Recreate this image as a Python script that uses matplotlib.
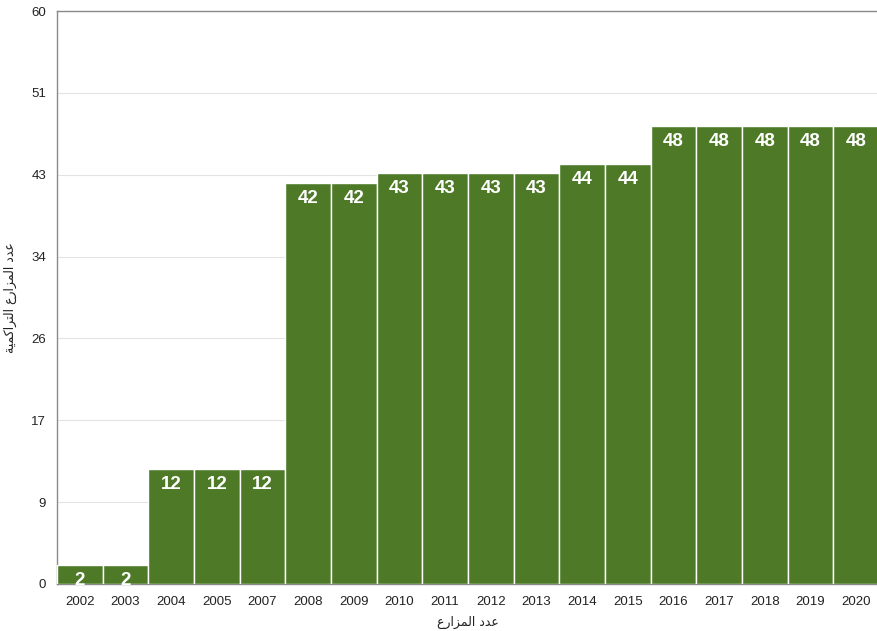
import matplotlib
matplotlib.use("Agg")
import matplotlib.pyplot as plt
import numpy as np

years = ["2002", "2003", "2004", "2005", "2007", "2008", "2009", "2010", "2011",
         "2012", "2013", "2014", "2015", "2016", "2017", "2018", "2019", "2020"]
values = [2, 2, 12, 12, 12, 42, 42, 43, 43, 43, 43, 44, 44, 48, 48, 48, 48, 48]
ytick_vals = list(np.linspace(0, 60, 8))
ytick_labels = ["0", "9", "17", "26", "34", "43", "51", "60"]

# Arabic labels, pre-shaped with presentation forms (visual order for LTR rendering)
xlabel_logical = "\uFECB\uFEAA\uFEA9 \uFE8D\uFEDF\uFEE4\uFEB0\uFE8D\uFEAD\uFEC9"  # عدد المزارع
ylabel_logical = ("\uFECB\uFEAA\uFEA9 \uFE8D\uFEDF\uFEE4\uFEB0\uFE8D\uFEAD\uFEC9 "
                  "\uFE8D\uFEDF\uFE98\uFEAE\uFE8D\uFEDB\uFEE4\uFEF4\uFE94")  # عدد المزارع التراكمية
xlabel = xlabel_logical[::-1]
ylabel = ylabel_logical[::-1]

plt.rcParams['font.family'] = ['Liberation Sans', 'DejaVu Sans']

fig = plt.figure(figsize=(8.78, 6.31), dpi=100)
ax = fig.add_axes([0.065, 0.0745, 0.936, 0.908])

x = np.arange(len(years))
ax.bar(x, values, width=1.0, color="#4e7a27", edgecolor="white", linewidth=1.0, zorder=3)

for xi, v in zip(x, values):
    ax.annotate(str(v), (xi, v), xytext=(0, -5), textcoords="offset points",
                ha="center", va="top", color="white", fontsize=13.5, fontweight="bold", zorder=4)

ax.set_xlim(-0.5, len(years) - 0.5)
ax.set_ylim(0, 60)
ax.set_yticks(ytick_vals)
ax.set_yticklabels(ytick_labels)
ax.set_xticks(x)
ax.set_xticklabels(years)
ax.tick_params(axis="both", length=0, labelsize=9.5, colors="#222222")
ax.tick_params(axis="y", pad=8)
ax.tick_params(axis="x", pad=9)
ax.grid(axis="y", color="#e3e3e3", linewidth=0.8, zorder=0)

for side in ["left", "top", "bottom"]:
    ax.spines[side].set_color("#8a8a8a")
    ax.spines[side].set_linewidth(1.0)
ax.spines["right"].set_visible(False)

ax.set_xlabel(xlabel, fontsize=9, family="DejaVu Sans", labelpad=5, color="#222222")
ax.set_ylabel(ylabel, fontsize=9, family="DejaVu Sans", labelpad=10, color="#222222")

fig.savefig("out.png", dpi=100)
